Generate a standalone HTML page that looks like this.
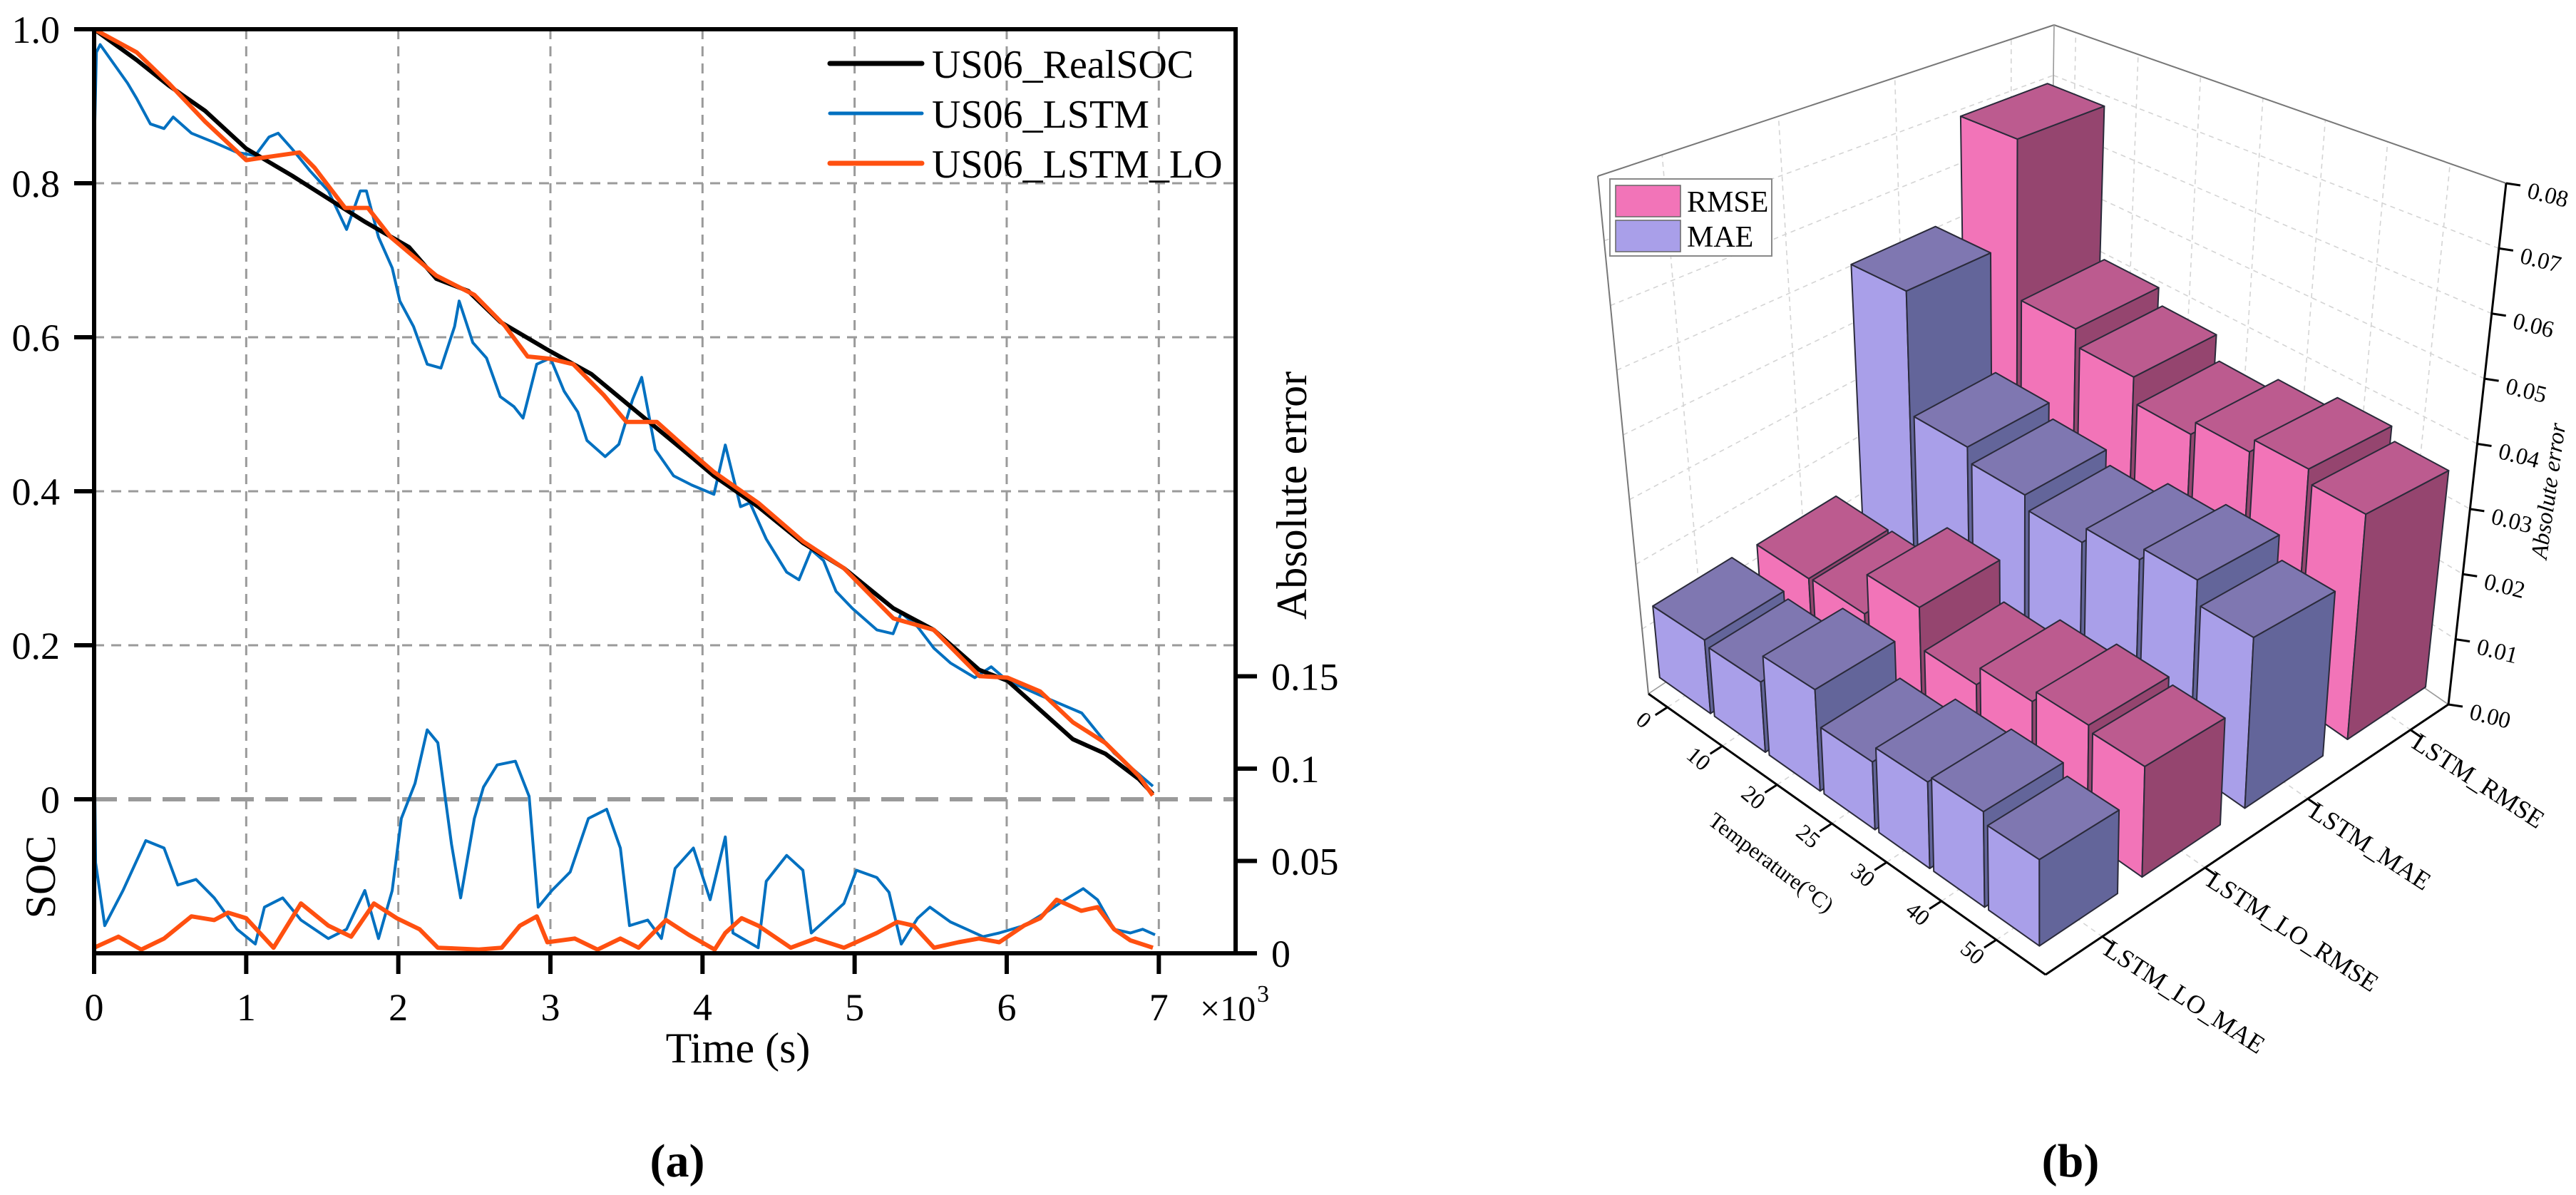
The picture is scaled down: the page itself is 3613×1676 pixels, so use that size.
<!DOCTYPE html>
<html><head><meta charset="utf-8"><style>body{margin:0;background:#fff}svg{display:block}svg text{font-family:"Liberation Serif","Times New Roman",serif;fill:#000}</style></head>
<body>
<svg id="fig" width="3613" height="1676" viewBox="0 0 3613 1676" xmlns="http://www.w3.org/2000/svg" font-family="Liberation Serif, Times New Roman, serif">
<defs><clipPath id="plotclip"><rect x="132" y="41" width="1601" height="1296"/></clipPath></defs>
<rect x="0" y="0" width="3613" height="1676" fill="#fff"/>
<g id="chartA"></g>
<g id="chartB"></g>
<text x="950" y="1650" font-size="66" font-weight="bold" text-anchor="middle" font-family="Liberation Serif, serif">(a)</text>
<text x="2904" y="1650" font-size="66" font-weight="bold" text-anchor="middle" font-family="Liberation Serif, serif">(b)</text>
</svg>
<script>
// ---------- Chart (a) data ----------
const realT = [0,280,490,730,1000,1300,1540,1780,2070,2250,2460,2670,2970,3270,3570,3870,4075,4366,4660,4930,5255,5520,5820,6005,6220,6435,6650,6870,6960];
const realSoc = [1.0,0.96,0.927,0.894,0.845,0.81,0.78,0.75,0.717,0.676,0.66,0.62,0.585,0.552,0.503,0.454,0.42,0.38,0.333,0.30,0.248,0.22,0.168,0.154,0.116,0.078,0.059,0.026,0.007];
const loT = [0,280,490,730,1000,1100,1350,1450,1650,1800,1950,2250,2500,2700,2850,3000,3150,3350,3500,3700,3870,4075,4366,4660,4930,5255,5520,5820,6005,6220,6435,6650,6870,6960];
const loSoc = [1.0,0.97,0.93,0.88,0.83,0.833,0.84,0.82,0.768,0.768,0.73,0.68,0.655,0.615,0.575,0.572,0.565,0.525,0.49,0.49,0.46,0.425,0.385,0.335,0.30,0.235,0.22,0.16,0.158,0.14,0.10,0.073,0.03,0.005];
const lstmT = [0,15,40,130,220,280,370,460,520,640,790,940,1060,1150,1210,1300,1420,1540,1660,1750,1790,1870,1960,2010,2100,2190,2280,2370,2400,2490,2580,2670,2760,2820,2910,3000,3090,3180,3240,3360,3450,3540,3600,3690,3810,3930,4075,4150,4250,4312,4419,4553,4634,4715,4796,4878,4985,5146,5253,5307,5414,5522,5630,5790,5898,6005,6220,6493,6706,6961];
const lstmSoc = [0.84,0.97,0.98,0.955,0.93,0.91,0.877,0.871,0.886,0.865,0.853,0.84,0.836,0.86,0.865,0.845,0.816,0.79,0.74,0.79,0.79,0.73,0.69,0.647,0.614,0.565,0.56,0.614,0.647,0.593,0.573,0.523,0.51,0.495,0.565,0.573,0.53,0.503,0.466,0.445,0.461,0.519,0.548,0.454,0.42,0.408,0.396,0.46,0.38,0.385,0.338,0.295,0.285,0.324,0.31,0.27,0.248,0.22,0.215,0.242,0.224,0.196,0.177,0.158,0.172,0.154,0.135,0.112,0.06,0.017];
const errLstmT = [0,10,70,190,340,460,550,670,790,940,1060,1120,1240,1360,1540,1660,1780,1870,1960,2020,2110,2190,2260,2350,2410,2500,2560,2650,2770,2860,2920,3010,3130,3250,3370,3460,3520,3640,3730,3820,3940,4050,4150,4200,4366,4419,4553,4660,4715,4823,4930,5012,5146,5226,5307,5414,5495,5630,5737,5844,5951,6113,6275,6382,6503,6597,6706,6813,6894,6975];
const errLstm = [0.12,0.049,0.015,0.034,0.061,0.057,0.037,0.04,0.030,0.013,0.005,0.025,0.03,0.018,0.008,0.013,0.034,0.008,0.034,0.073,0.092,0.121,0.114,0.059,0.030,0.073,0.090,0.102,0.104,0.085,0.025,0.034,0.044,0.073,0.078,0.057,0.015,0.018,0.008,0.046,0.057,0.029,0.063,0.011,0.003,0.039,0.053,0.045,0.011,0.019,0.027,0.045,0.041,0.033,0.005,0.019,0.025,0.017,0.013,0.009,0.011,0.015,0.023,0.029,0.035,0.029,0.013,0.011,0.013,0.010];
const errLoT = [0,160,310,460,640,790,880,1000,1180,1360,1540,1690,1840,1990,2140,2260,2530,2680,2800,2910,2980,3160,3310,3460,3580,3760,3910,4080,4150,4257,4366,4580,4742,4930,5146,5280,5388,5522,5683,5817,5951,6113,6220,6328,6490,6597,6706,6813,6961];
const errLo = [0.003,0.009,0.002,0.008,0.020,0.018,0.022,0.019,0.003,0.027,0.015,0.009,0.027,0.019,0.013,0.003,0.002,0.003,0.015,0.020,0.006,0.008,0.002,0.008,0.003,0.018,0.010,0.002,0.011,0.019,0.015,0.003,0.008,0.003,0.011,0.017,0.015,0.003,0.006,0.008,0.006,0.015,0.019,0.029,0.023,0.025,0.013,0.007,0.003];
const xTicks = [0,1,2,3,4,5,6,7];
const yTicks = ['0','0.2','0.4','0.6','0.8','1.0'];
const errTicks = ['0','0.05','0.1','0.15'];

// ---------- Chart (b) data ----------
const temps = ['0','10','20','25','30','40','50'];
const groups = ['LSTM_RMSE','LSTM_MAE','LSTM_LO_RMSE','LSTM_LO_MAE'];
const lstmRmseVals = [0.0677,0.0386,0.0356,0.0313,0.0336,0.0358,0.0337];
const lstmMaeVals = [0.0491,0.0280,0.0256,0.0234,0.0259,0.0278,0.0243];
const loRmseVals = [0.0108,0.0110,0.0175,0.0113,0.0141,0.0158,0.0150];
const loMaeVals = [0.0112,0.0104,0.0146,0.0095,0.0118,0.0127,0.0112];
const zTicks = ['0.00','0.01','0.02','0.03','0.04','0.05','0.06','0.07','0.08'];

const NS = 'http://www.w3.org/2000/svg';
const SERIF = 'Liberation Serif, Times New Roman, serif';
function mk(parent, tag, attrs, text) {
  const e = document.createElementNS(NS, tag);
  for (const k in attrs) e.setAttribute(k, attrs[k]);
  if (tag === 'text') e.setAttribute('font-family', SERIF);
  if (text != null) e.textContent = text;
  parent.appendChild(e);
  return e;
}

// ===== Chart A =====
const A = document.getElementById('chartA');
const X0 = 132, X1 = 1733, Y0 = 41, Y1 = 1337;
const xS = t => X0 + t * 0.21333;
const yS = v => 1121 - v * 1080;
const yE = v => 1337 - v * 2590;

for (const k of xTicks) {
  if (k === 0) continue;
  const g = mk(A, 'line', {x1: xS(k*1000), x2: xS(k*1000), y1: Y0, y2: Y1, stroke: '#9a9a9a', 'stroke-width': 3, 'stroke-dasharray': '14 10'});
  
  
}
for (const s of yTicks) {
  const v = parseFloat(s);
  if (v === 1) continue;
  const g = mk(A, 'line', {x1: X0, x2: X1, y1: yS(v), y2: yS(v), stroke: '#9a9a9a', 'stroke-width': v === 0 ? 6 : 3, 'stroke-dasharray': v === 0 ? '32 16' : '14 10'});
  
  
}

function series(ts, vs, ys, color, w, name) {
  const pts = ts.map((t, i) => xS(t).toFixed(1) + ',' + ys(vs[i]).toFixed(1)).join(' ');
  const p = mk(A, 'polyline', {points: pts, fill: 'none', stroke: color, 'stroke-width': w, 'stroke-linejoin': 'round', 'clip-path': 'url(#plotclip)'});
  
  
}
series(errLstmT, errLstm, yE, '#0070C0', 4, 'lstm-error-line');
series(errLoT, errLo, yE, '#FF5010', 6, 'lstm-lo-error-line');
series(lstmT, lstmSoc, yS, '#0070C0', 4, 'lstm-soc-line');
series(realT, realSoc, yS, '#000000', 6, 'real-soc-line');
series(loT, loSoc, yS, '#FF5010', 6, 'lstm-lo-soc-line');

const frame = mk(A, 'rect', {x: X0, y: Y0, width: X1 - X0, height: Y1 - Y0, fill: 'none', stroke: '#000', 'stroke-width': 6});



for (const s of yTicks) {
  const v = parseFloat(s);
  const tk = mk(A, 'line', {x1: 104, x2: X0, y1: yS(v), y2: yS(v), stroke: '#000', 'stroke-width': 6});
  
  
  const lb = mk(A, 'text', {x: 84, y: yS(v) + 19, 'font-size': 54, 'text-anchor': 'end'}, s);
  
  
}
for (const k of xTicks) {
  const tk = mk(A, 'line', {x1: xS(k*1000), x2: xS(k*1000), y1: Y1, y2: 1366, stroke: '#000', 'stroke-width': 6});
  
  
  const lb = mk(A, 'text', {x: xS(k*1000), y: 1431, 'font-size': 54, 'text-anchor': 'middle'}, String(k));
  
  
}
for (const s of errTicks) {
  const v = parseFloat(s);
  const tk = mk(A, 'line', {x1: X1, x2: 1763, y1: yE(v), y2: yE(v), stroke: '#000', 'stroke-width': 6});
  
  
  const lb = mk(A, 'text', {x: 1783, y: yE(v) + 19, 'font-size': 54}, s);
  
  
}
let t;
t = mk(A, 'text', {x: 1683, y: 1431, 'font-size': 50}, '×10');


t = mk(A, 'text', {x: 1763, y: 1405, 'font-size': 34}, '3');


t = mk(A, 'text', {x: 1035, y: 1490, 'font-size': 60, 'text-anchor': 'middle'}, 'Time (s)');


t = mk(A, 'text', {x: 0, y: 0, 'font-size': 60, 'text-anchor': 'middle', transform: 'translate(77,1230) rotate(-90)'}, 'SOC');


t = mk(A, 'text', {x: 0, y: 0, 'font-size': 60, 'text-anchor': 'middle', transform: 'translate(1832,695) rotate(-90)'}, 'Absolute error');



const legendItems = [['US06_RealSOC', '#000', 7], ['US06_LSTM', '#0070C0', 5], ['US06_LSTM_LO', '#FF5010', 7]];
legendItems.forEach((it, i) => {
  const y = 89 + i * 70;
  const ln = mk(A, 'line', {x1: 1164, x2: 1293, y1: y, y2: y, stroke: it[1], 'stroke-width': it[2], 'stroke-linecap': 'round'});
  
  
  const tx = mk(A, 'text', {x: 1307, y: y + 20, 'font-size': 56}, it[0]);
  
  
});

// ===== Chart B (3D bars) =====
const Bg = document.getElementById('chartB');
const Lb = [2312, 973], Fb = [2869, 1367], Bb = [2873, 600], Rb = [3434, 988];
const Lt = [2241, 247], Ft = [2869, 485], Bt = [2881, 35], Rt = [3515, 257];
const ZMAX = 0.08;
function bil(l, f, b, r, a, bb, k) {
  return (1 - bb) * (l[k] + a * (f[k] - l[k])) + bb * (b[k] + a * (r[k] - b[k]));
}
function P(a, b, z) {
  const f = z / ZMAX;
  const x = bil(Lb, Fb, Bb, Rb, a, b, 0) * (1 - f) + bil(Lt, Ft, Bt, Rt, a, b, 0) * f;
  const y = bil(Lb, Fb, Bb, Rb, a, b, 1) * (1 - f) + bil(Lt, Ft, Bt, Rt, a, b, 1) * f;
  return [x, y];
}
const aPos = i => 0.048 + 0.138 * i;
const bPos = j => 0.906 - 0.255 * j;
const ptsStr = arr => arr.map(p => p[0].toFixed(1) + ',' + p[1].toFixed(1)).join(' ');

function gline(p, q, name, dash, col, w) {
  const l = mk(Bg, 'line', {x1: p[0], y1: p[1], x2: q[0], y2: q[1], stroke: col, 'stroke-width': w, 'stroke-dasharray': dash});
  
  
}
zTicks.forEach((s, k) => {
  const z = parseFloat(s);
  if (k === 0) return;
  gline(P(0, 0, z), P(0, 1, z), 'left-wall-gridline', '7 6', '#d4d4d4', 1.6);
  gline(P(0, 1, z), P(1, 1, z), 'back-wall-gridline', '7 6', '#d4d4d4', 1.6);
});
temps.forEach((s, i) => {
  gline(P(aPos(i), 1, 0), P(aPos(i), 1, ZMAX), 'back-wall-vgridline', '7 6', '#d4d4d4', 1.6);
  gline(P(aPos(i), 0, 0), P(aPos(i), 1, 0), 'floor-gridline', '7 6', '#d4d4d4', 1.6);
});
groups.forEach((s, j) => {
  gline(P(0, bPos(j), 0), P(0, bPos(j), ZMAX), 'left-wall-vgridline', '7 6', '#d4d4d4', 1.6);
  gline(P(0, bPos(j), 0), P(1, bPos(j), 0), 'floor-gridline', '7 6', '#d4d4d4', 1.6);
});
gline(P(0, 0, 0), P(0, 0, ZMAX), 'box-edge', 'none', '#777', 2);
gline(P(0, 0, ZMAX), P(0, 1, ZMAX), 'box-edge', 'none', '#777', 2);
gline(P(0, 1, ZMAX), P(1, 1, ZMAX), 'box-edge', 'none', '#777', 2);
gline(P(0, 1, 0), P(0, 1, ZMAX), 'box-edge', 'none', '#999', 1.6);
gline(P(0, 0, 0), P(0, 1, 0), 'box-edge', 'none', '#999', 1.6);
gline(P(0, 1, 0), P(1, 1, 0), 'box-edge', 'none', '#999', 1.6);

const rowVals = [lstmRmseVals, lstmMaeVals, loRmseVals, loMaeVals];
const pinkC = {front: '#F274B8', side: '#95456F', top: '#BC5B8F'};
const blueC = {front: '#A99FE9', side: '#63659A', top: '#7F77B1'};
const ha = 0.064, hb = 0.097;
groups.forEach((g, j) => {
  const col = (j % 2 === 0) ? pinkC : blueC;
  rowVals[j].forEach((v, i) => {
    const a = aPos(i), b = bPos(j);
    const grp = mk(Bg, 'g', {});
    
    
    const front = [P(a - ha, b - hb, 0), P(a + ha, b - hb, 0), P(a + ha, b - hb, v), P(a - ha, b - hb, v)];
    const side = [P(a + ha, b - hb, 0), P(a + ha, b + hb, 0), P(a + ha, b + hb, v), P(a + ha, b - hb, v)];
    const top = [P(a - ha, b - hb, v), P(a + ha, b - hb, v), P(a + ha, b + hb, v), P(a - ha, b + hb, v)];
    const f1 = mk(grp, 'polygon', {points: ptsStr(front), fill: col.front, stroke: '#2a2a3a', 'stroke-width': 2, 'stroke-linejoin': 'round'});
    
    
    const f2 = mk(grp, 'polygon', {points: ptsStr(side), fill: col.side, stroke: '#2a2a3a', 'stroke-width': 2, 'stroke-linejoin': 'round'});
    
    
    const f3 = mk(grp, 'polygon', {points: ptsStr(top), fill: col.top, stroke: '#2a2a3a', 'stroke-width': 2, 'stroke-linejoin': 'round'});
    
    
  });
});

gline(P(0, 0, 0), P(1, 0, 0), 'temperature-axis', 'none', '#000', 3);
gline(P(1, 0, 0), P(1, 1, 0), 'method-axis', 'none', '#000', 3);
gline(P(1, 1, 0), P(1, 1, ZMAX), 'z-axis', 'none', '#000', 3);
temps.forEach((s, i) => {
  const p = P(aPos(i), 0, 0);
  gline(p, [p[0] - 17, p[1] + 11], 'temperature-tick', 'none', '#000', 3);
  const tx = mk(Bg, 'text', {x: 0, y: 0, 'font-size': 32, 'text-anchor': 'middle', transform: 'translate(' + (p[0] - 40) + ',' + (p[1] + 26) + ') rotate(40)'}, s);
  
  
});
groups.forEach((s, j) => {
  const p = P(1, bPos(j), 0);
  gline(p, [p[0] + 16, p[1] + 11], 'method-tick', 'none', '#000', 3);
  const tx = mk(Bg, 'text', {x: 0, y: 26, 'font-size': 36, transform: 'translate(' + (p[0] + 14) + ',' + (p[1] + 2) + ') rotate(33)'}, s);
  
  
});
zTicks.forEach((s, k) => {
  const p = P(1, 1, parseFloat(s));
  gline(p, [p[0] + 20, p[1] + 3], 'z-tick', 'none', '#000', 3);
  const tx = mk(Bg, 'text', {x: 0, y: 0, 'font-size': 33, transform: 'translate(' + (p[0] + 28) + ',' + (p[1] + 20) + ') rotate(14)'}, s);
  
  
});
t = mk(Bg, 'text', {x: 0, y: 0, 'font-size': 33, 'font-style': 'italic', 'text-anchor': 'middle', transform: 'translate(3585,690) rotate(-82)'}, 'Absolute error');


t = mk(Bg, 'text', {x: 0, y: 0, 'font-size': 31, 'text-anchor': 'middle', transform: 'translate(2478,1218) rotate(37)'}, 'Temperature(°C)');



const lg = mk(Bg, 'rect', {x: 2258, y: 251, width: 227, height: 108, fill: '#fff', stroke: '#888', 'stroke-width': 2});


[['RMSE', pinkC.front], ['MAE', blueC.front]].forEach((it, i) => {
  const y = 260 + i * 49;
  const sw = mk(Bg, 'rect', {x: 2266, y: y, width: 91, height: 44, fill: it[1], stroke: '#666', 'stroke-width': 1.5});
  
  
  const tx = mk(Bg, 'text', {x: 2366, y: y + 37, 'font-size': 42}, it[0]);
  
  
});
</script>
</body></html>
